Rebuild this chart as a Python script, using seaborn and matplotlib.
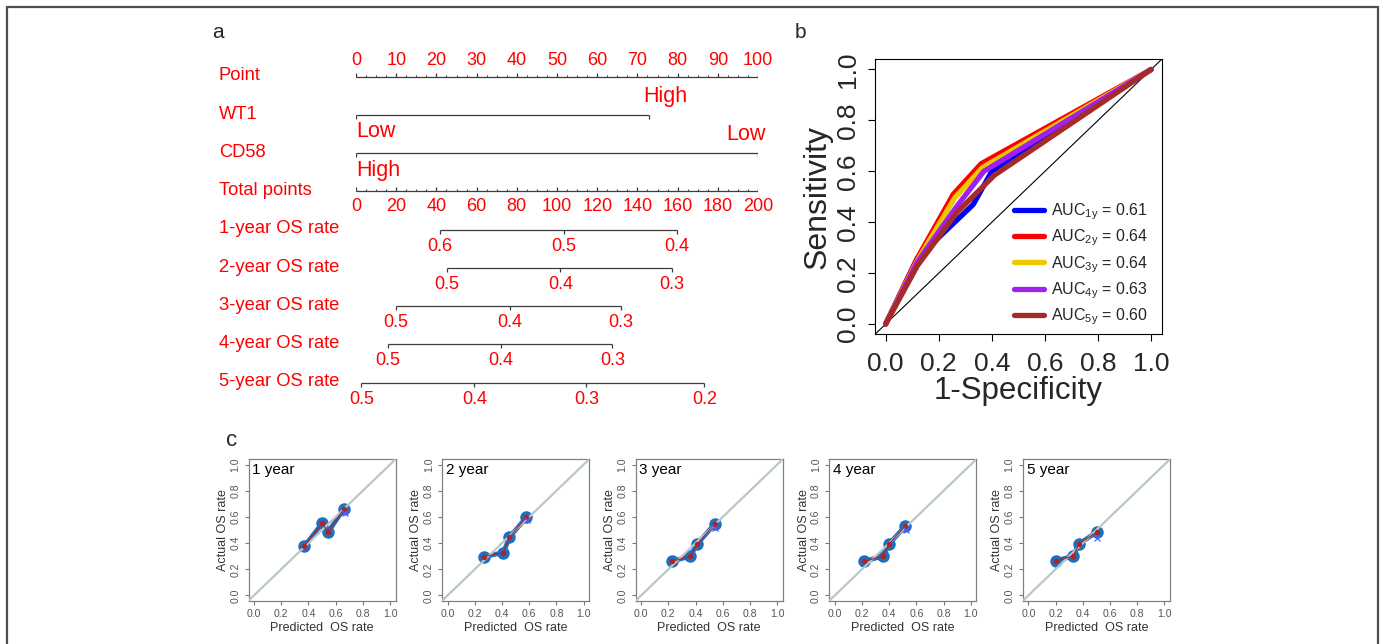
import numpy as np
import pandas as pd
import seaborn as sns
import matplotlib.pyplot as plt
from matplotlib.lines import Line2D
from matplotlib.ticker import FormatStrFormatter

# ---- panel a: nomogram ----
point_ticks = np.arange(0, 101, 10)
total_ticks = np.arange(0, 201, 20)
wt1_levels = ["Low", "High"]
wt1_points = [0, 73]
cd58_levels = ["High", "Low"]
cd58_points = [0, 100]
os_rows = ["1-year OS rate", "2-year OS rate", "3-year OS rate",
           "4-year OS rate", "5-year OS rate"]
os_labels_1y = ["0.6", "0.5", "0.4"]
os_total_1y = [41.8, 103.5, 159.7]
os_labels_2y = ["0.5", "0.4", "0.3"]
os_total_2y = [45.3, 101.7, 157.0]
os_labels_3y = ["0.5", "0.4", "0.3"]
os_total_3y = [20.0, 76.4, 131.7]
os_labels_4y = ["0.5", "0.4", "0.3"]
os_total_4y = [16.0, 72.2, 127.5]
os_labels_5y = ["0.5", "0.4", "0.3", "0.2"]
os_total_5y = [2.7, 58.9, 114.6, 173.3]

# ---- panel b: ROC ----
fpr_1y = [0, 0.12, 0.22, 0.33, 0.40, 1]
tpr_1y = [0, 0.26, 0.36, 0.47, 0.60, 1]
fpr_2y = [0, 0.12, 0.255, 0.36, 1]
tpr_2y = [0, 0.26, 0.51, 0.63, 1]
fpr_3y = [0, 0.12, 0.26, 0.365, 1]
tpr_3y = [0, 0.25, 0.495, 0.615, 1]
fpr_4y = [0, 0.12, 0.27, 0.37, 1]
tpr_4y = [0, 0.245, 0.465, 0.60, 1]
fpr_5y = [0, 0.12, 0.27, 0.41, 1]
tpr_5y = [0, 0.23, 0.44, 0.585, 1]
auc_values = ["0.61", "0.64", "0.64", "0.63", "0.60"]
roc_colors = ["#0000FF", "#FF0000", "#EEC900", "#A020F0", "#A52A2A"]

# ---- panel c: calibration ----
cal_titles = ["1 year", "2 year", "3 year", "4 year", "5 year"]
pred_1y = [0.37, 0.50, 0.545, 0.66]
obs_1y = [0.375, 0.55, 0.485, 0.66]
pred_2y = [0.27, 0.41, 0.455, 0.58]
obs_2y = [0.297, 0.327, 0.445, 0.597]
pred_3y = [0.227, 0.36, 0.41, 0.54]
obs_3y = [0.26, 0.30, 0.39, 0.546]
pred_4y = [0.214, 0.353, 0.397, 0.519]
obs_4y = [0.26, 0.30, 0.39, 0.531]
pred_5y = [0.203, 0.33, 0.373, 0.505]
obs_5y = [0.264, 0.302, 0.394, 0.487]
corr_x = [0.67, 0.585, 0.545, 0.525, 0.505]
corr_y = [0.63, 0.575, 0.515, 0.50, 0.44]

sns.set_style("ticks")
plt.rcParams["font.family"] = ["Liberation Sans", "DejaVu Sans"]
plt.rcParams["mathtext.default"] = "regular"

W, H = 1383, 644
fig = plt.figure(figsize=(W / 100, H / 100), dpi=100)


def fx(px):
    return px / W


def fy(py):
    return 1 - py / H


red = "#FF0000"
lc = "#3C3C3C"

# nomogram axes: x = points (0-100), y = row index
ax_a = fig.add_axes([fx(356), fy(401.8), fx(758) - fx(356), (401.8 - 57.6) / H])
ax_a.set_xlim(0, 100)
ax_a.set_ylim(8.5, -0.5)
ax_a.axis("off")
rt = ax_a.get_yaxis_transform()
row_names = ["Point", "WT1", "CD58", "Total points"] + os_rows
for i, name in enumerate(row_names):
    ax_a.text(-0.3408, i - 0.02, name, transform=rt, color=red,
              fontsize=13.2, ha="left", va="center")

tk = 0.105  # tick length in row units (~4 px)
# Point scale
ax_a.hlines(0, 0, 100, color=lc, lw=0.9)
ax_a.vlines(point_ticks, 0, -tk, color=lc, lw=0.9)
ax_a.vlines(np.arange(0, 100.1, 2.5), 0, -tk / 2, color=lc, lw=0.8)
for t in point_ticks:
    ax_a.text(t, -0.42, str(t), color=red, fontsize=13, ha="center", va="center")

# WT1
ax_a.hlines(1, wt1_points[0], wt1_points[1], color=lc, lw=0.9)
ax_a.vlines(wt1_points, 1, 1 + tk, color=lc, lw=0.9)
ax_a.text(wt1_points[0], 1 + 0.44, wt1_levels[0], color=red, fontsize=15.5,
          ha="left", va="center")
ax_a.text(wt1_points[1] - 1.5, 1 - 0.48, wt1_levels[1], color=red, fontsize=15.5,
          ha="left", va="center")

# CD58
ax_a.hlines(2, cd58_points[0], cd58_points[1], color=lc, lw=0.9)
ax_a.vlines(cd58_points, 2, 2 + tk, color=lc, lw=0.9)
ax_a.text(cd58_points[0], 2 + 0.44, cd58_levels[0], color=red, fontsize=15.5,
          ha="left", va="center")
ax_a.text(cd58_points[1] + 2, 2 - 0.48, cd58_levels[1], color=red, fontsize=15.5,
          ha="right", va="center")

# Total points
ax_a.hlines(3, 0, 100, color=lc, lw=0.9)
ax_a.vlines(total_ticks / 2, 3, 3 - tk, color=lc, lw=0.9)
ax_a.vlines(np.arange(0, 200.1, 5) / 2, 3, 3 - tk / 2, color=lc, lw=0.8)
for t in total_ticks:
    ax_a.text(t / 2, 3 + 0.40, str(t), color=red, fontsize=13, ha="center", va="center")

# OS rate scales
os_labels = [os_labels_1y, os_labels_2y, os_labels_3y, os_labels_4y, os_labels_5y]
os_total = [os_total_1y, os_total_2y, os_total_3y, os_total_4y, os_total_5y]
for k, (labs, tots) in enumerate(zip(os_labels, os_total)):
    r = 4 + k
    xs = np.array(tots) / 2
    ax_a.hlines(r, xs.min(), xs.max(), color=lc, lw=0.9)
    ax_a.vlines(xs, r, r + tk, color=lc, lw=0.9)
    for x, lab in zip(xs, labs):
        ax_a.text(x, r + 0.43, lab, color=red, fontsize=13, ha="center", va="center")

# ---- ROC ----
ax_b = fig.add_axes([fx(875), fy(334.3), (1161.7 - 875) / W, 275 / H])
ax_b.axline((0, 0), (1, 1), color="black", lw=0.8, zorder=1)
fprs = [fpr_1y, fpr_2y, fpr_3y, fpr_4y, fpr_5y]
tprs = [tpr_1y, tpr_2y, tpr_3y, tpr_4y, tpr_5y]
for k in range(5):
    sns.lineplot(x=fprs[k], y=tprs[k], ax=ax_b, color=roc_colors[k], lw=3.8,
                 sort=False, estimator=None, solid_joinstyle="round",
                 solid_capstyle="round",
                 label="AUC$_{%dy}$ = %s" % (k + 1, auc_values[k]))
ax_b.set_xlim(-0.04, 1.04)
ax_b.set_ylim(-0.04, 1.04)
ax_b.set_xticks(np.arange(0, 1.01, 0.2))
ax_b.set_yticks(np.arange(0, 1.01, 0.2))
ax_b.xaxis.set_major_formatter(FormatStrFormatter("%.1f"))
ax_b.yaxis.set_major_formatter(FormatStrFormatter("%.1f"))
ax_b.tick_params(length=5, width=0.8, labelsize=19, color="black")
ax_b.tick_params(axis="x", pad=8)
ax_b.tick_params(axis="y", pad=6)
for lab in ax_b.get_yticklabels():
    lab.set_rotation(90)
    lab.set_va("center")
for sp in ax_b.spines.values():
    sp.set_linewidth(0.8)
    sp.set_color("black")
ax_b.set_xlabel("1-Specificity", fontsize=22.5, labelpad=0)
ax_b.set_ylabel("Sensitivity", fontsize=23, labelpad=2)
ax_b.legend(loc="lower left", bbox_to_anchor=(0.485, 0.025), frameon=False,
            fontsize=11.5, handlelength=1.9, handletextpad=0.4,
            labelspacing=0.36, borderaxespad=0, borderpad=0)

# ---- calibration ----
preds = [pred_1y, pred_2y, pred_3y, pred_4y, pred_5y]
obss = [obs_1y, obs_2y, obs_3y, obs_4y, obs_5y]
for k in range(5):
    ax = fig.add_axes([fx(248.5 + 193.6 * k), fy(600.7), 147 / W, 141.4 / H])
    sns.lineplot(x=preds[k], y=obss[k], ax=ax, color="#1F6FC0", lw=3.4,
                 marker="o", markersize=9, markeredgewidth=0,
                 sort=False, estimator=None, zorder=2)
    ax.axline((0, 0), (1, 1), color="#B8C8C8", lw=1.6, zorder=3)
    ax.plot(preds[k], obss[k], color="#B22222", lw=0.8, marker="o",
            markersize=3.8, markeredgewidth=0, zorder=4)
    ax.plot(corr_x[k], corr_y[k], "x", color="#5A5AFF", markersize=4,
            markeredgewidth=0.9, zorder=5)
    ax.set_xlim(-0.04, 1.04)
    ax.set_ylim(-0.04, 1.04)
    ax.set_xticks(np.arange(0, 1.01, 0.2))
    ax.set_yticks(np.arange(0, 1.01, 0.2))
    ax.xaxis.set_major_formatter(FormatStrFormatter("%.1f"))
    ax.yaxis.set_major_formatter(FormatStrFormatter("%.1f"))
    ax.tick_params(length=3, width=0.8, labelsize=7.6, color="#777777",
                   labelcolor="#555555", pad=3)
    for lab in ax.get_yticklabels():
        lab.set_rotation(90)
        lab.set_va("center")
    for sp in ax.spines.values():
        sp.set_linewidth(0.9)
        sp.set_color("#808080")
    ax.set_xlabel("Predicted  OS rate", fontsize=9, color="#333333", labelpad=2)
    ax.set_ylabel("Actual OS rate", fontsize=9, color="#333333", labelpad=1)
    ax.text(0.025, 0.925, cal_titles[k], transform=ax.transAxes, fontsize=11,
            ha="left", va="center", color="black")

# panel letters
fig.text(fx(218), fy(33), "a", fontsize=15, ha="center", va="center")
fig.text(fx(800), fy(33), "b", fontsize=15, ha="center", va="center")
fig.text(fx(232), fy(441), "c", fontsize=16, ha="center", va="center")

# outer frame
frame_kw = dict(color="#4D4D4D", lw=1.6)
fig.add_artist(Line2D([fx(7), fx(7)], [fy(7), 0], **frame_kw))
fig.add_artist(Line2D([fx(7), fx(1378)], [fy(7), fy(7)], **frame_kw))
fig.add_artist(Line2D([fx(1378), fx(1378)], [fy(7), 0], **frame_kw))

fig.savefig("out.png", dpi=100)
